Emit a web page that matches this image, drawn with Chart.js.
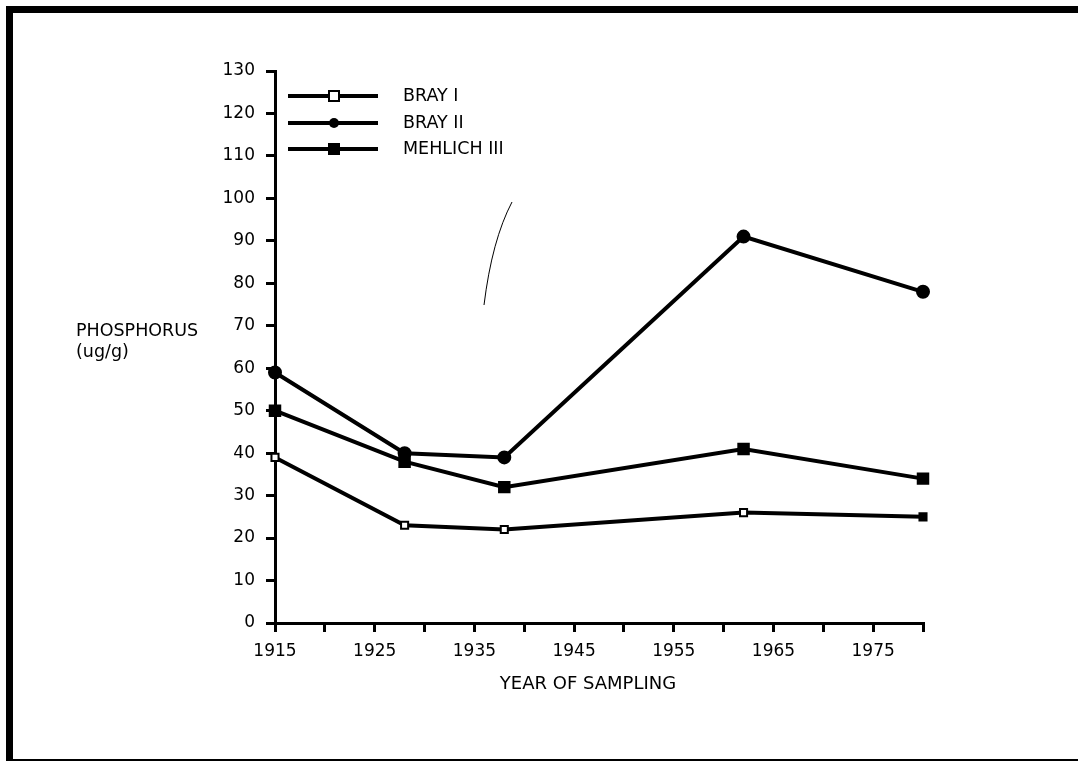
<!DOCTYPE html>
<html>
<head>
<meta charset="utf-8">
<script src="https://cdn.jsdelivr.net/npm/chart.js"></script>
<style>
  body { margin: 0; background: #fff; }
  #wrap { position: relative; width: 1078px; height: 761px; }
  #frame { position: absolute; left: 6px; top: 6px; right: 0; bottom: 0;
           border-style: solid; border-color: #000; border-width: 7px 0 2px 7px;
           box-sizing: border-box; pointer-events: none; }
</style>
</head>
<body>
<div id="wrap">
  <canvas id="chart" width="1078" height="761"></canvas>
  <div id="frame"></div>
</div>
<script>
// years sampled
const years = [1915, 1928, 1938, 1962, 1980];
// phosphorus (ug/g)
const bray1 = [39, 23, 22, 26, 25];
const bray2 = [59, 40, 39, 91, 78];
const mehlich3 = [50, 38, 32, 41, 34];
const seriesNames = ['BRAY I', 'BRAY II', 'MEHLICH III'];
const yTicks = [0, 10, 20, 30, 40, 50, 60, 70, 80, 90, 100, 110, 120, 130];
const xLabelYears = [1915, 1925, 1935, 1945, 1955, 1965, 1975];

const FONT = '"DejaVu Sans", "Noto Sans", sans-serif';

function toPts(vals) {
    return years.map(function(y, i) { return { x: y, y: vals[i] }; });
}

const datasets = [
    {
        label: seriesNames[0],
        data: toPts(bray1),
        borderColor: '#000',
        borderWidth: 4,
        pointStyle: 'rect',
        pointRadius: 5,
        pointBorderWidth: 2,
        pointBorderColor: '#000',
        pointBackgroundColor: ['#fff', '#fff', '#fff', '#fff', '#000']
    },
    {
        label: seriesNames[1],
        data: toPts(bray2),
        borderColor: '#000',
        borderWidth: 4,
        pointStyle: 'circle',
        pointRadius: 5,
        pointBorderColor: '#000',
        pointBackgroundColor: '#000'
    },
    {
        label: seriesNames[2],
        data: toPts(mehlich3),
        borderColor: '#000',
        borderWidth: 4,
        pointStyle: 'rect',
        pointRadius: 6,
        pointBorderColor: '#000',
        pointBackgroundColor: '#000'
    }
];

// legend, axis titles and the stray pen stroke drawn by hand
const extras = {
    id: 'extras',
    afterDraw: function(chart) {
        const c = chart.ctx;
        c.save();
        c.fillStyle = '#000';
        c.strokeStyle = '#000';
        c.textBaseline = 'middle';
        c.textAlign = 'left';
        c.font = '17.5px ' + FONT;
        c.fillText('PHOSPHORUS', 76, 331);
        c.fillText('(ug/g)', 76, 352);

        c.textAlign = 'center';
        c.font = '18px ' + FONT;
        c.fillText('YEAR OF SAMPLING', 588, 684);

        c.textAlign = 'left';
        const rows = [96, 123, 149];
        chart.data.datasets.forEach(function(ds, i) {
            const y = rows[i];
            c.lineWidth = 4;
            c.beginPath();
            c.moveTo(288, y);
            c.lineTo(378, y);
            c.stroke();
            c.lineWidth = 2;
            if (ds.pointStyle === 'circle') {
                c.beginPath();
                c.arc(334, y, 5, 0, Math.PI * 2);
                c.fill();
            } else if (i === 0) {
                c.fillStyle = '#fff';
                c.fillRect(329, y - 5, 10, 10);
                c.strokeRect(329, y - 5, 10, 10);
                c.fillStyle = '#000';
            } else {
                c.fillRect(328, y - 6, 12, 12);
            }
            c.font = '17.5px ' + FONT;
            c.fillText(ds.label, 403, y);
        });

        c.lineWidth = 1;
        c.beginPath();
        c.moveTo(484, 305);
        c.quadraticCurveTo(492, 240, 512, 202);
        c.stroke();
        c.restore();
    }
};

new Chart(document.getElementById('chart'), {
    type: 'line',
    data: { datasets: datasets },
    options: {
        responsive: false,
        animation: false,
        clip: false,
        layout: { padding: { left: 0, top: 71, right: 155, bottom: 68 } },
        plugins: { legend: { display: false }, tooltip: { enabled: false } },
        scales: {
            x: {
                type: 'linear',
                min: 1915,
                max: 1980,
                afterFit: function(scale) { scale.height = 70; },
                border: { color: '#000', width: 3 },
                grid: { drawOnChartArea: false, color: '#000', lineWidth: 3, tickLength: 9 },
                ticks: {
                    stepSize: 5,
                    color: '#000',
                    font: { family: FONT, size: 17 },
                    padding: 9,
                    maxRotation: 0,
                    autoSkip: false,
                    callback: function(v) { return xLabelYears.includes(v) ? String(v) : ''; }
                }
            },
            y: {
                min: 0,
                max: 130,
                afterFit: function(scale) { scale.width = 275; },
                afterBuildTicks: function(scale) {
                    scale.ticks = yTicks.map(function(v) { return { value: v }; });
                },
                border: { color: '#000', width: 3 },
                grid: { drawOnChartArea: false, color: '#000', lineWidth: 3, tickLength: 9 },
                ticks: {
                    color: '#000',
                    font: { family: FONT, size: 17 },
                    padding: 11
                }
            }
        }
    },
    plugins: [extras]
});
</script>
</body>
</html>
